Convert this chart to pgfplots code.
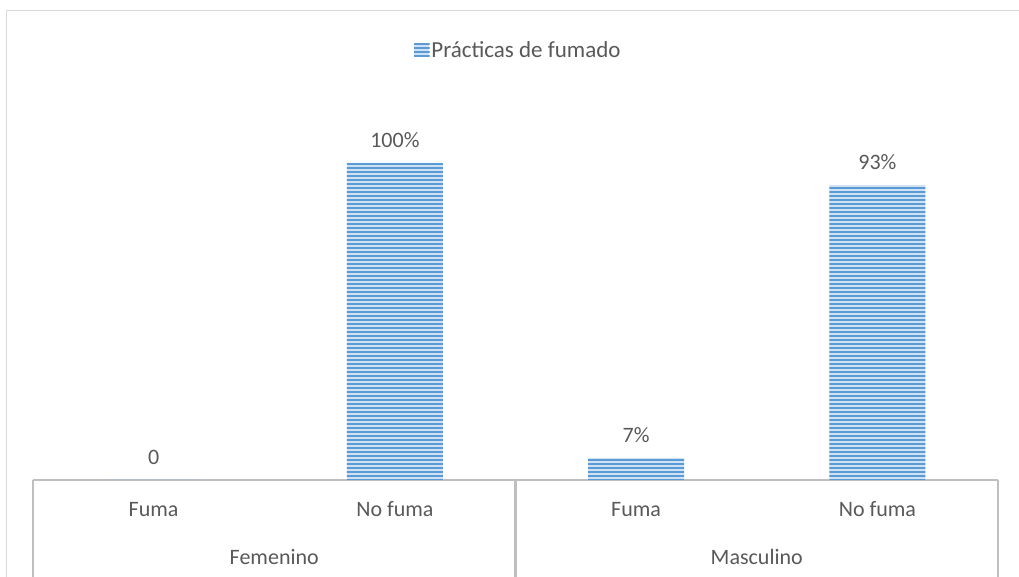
\documentclass[border=0pt]{standalone}
\usepackage{fontspec}
\setmainfont{Carlito}
\usepackage{pgfplots}
\pgfplotsset{compat=1.18}
\usetikzlibrary{patterns}
\pgfdeclarepatternformonly{hstripes}{\pgfpointorigin}{\pgfpoint{100pt}{4pt}}{\pgfpoint{100pt}{4pt}}{%
  \pgfpathrectangle{\pgfpoint{-1pt}{0pt}}{\pgfpoint{102pt}{2.2pt}}\pgfusepath{fill}}
\definecolor{barblue}{HTML}{5B9BD5}
\definecolor{barlight}{HTML}{CFE1F3}
\definecolor{txt}{HTML}{595959}
\definecolor{axgray}{HTML}{BFBFBF}
\definecolor{framegray}{HTML}{D9D9D9}
\begin{document}
\begin{tikzpicture}[font=\fontsize{22}{26}\selectfont, text=txt]
\path[use as bounding box] (-33pt,-97pt) rectangle (986pt,480pt);
\begin{axis}[
  at={(0pt,0pt)}, anchor=south west,
  scale only axis,
  width=965pt, height=364.6pt,
  xmin=-0.5, xmax=3.5, ymin=0, ymax=115,
  axis x line=bottom, axis y line=none,
  x axis line style={draw=axgray, line width=2.5pt, -},
  xtick={0,1,2,3},
  xticklabels={Fuma, No fuma, Fuma, No fuma},
  xticklabel style={text=txt, anchor=center, yshift=-30pt, text height=14pt, text depth=0pt, font=\fontsize{22}{26}\selectfont},
  major tick length=0pt,
  tick align=outside,
  xtick style={draw=none},
  extra x ticks={-0.5,1.5,3.5},
  extra x tick labels={},
  extra x tick style={major tick length=97pt, xtick style={draw=axgray, line width=2.5pt}},
  ytick=\empty,
  ybar, bar width=96pt,
  point meta=explicit symbolic,
  nodes near coords={\pgfplotspointmeta},
  nodes near coords style={anchor=center, yshift=23pt, text=txt, font=\fontsize{22}{26}\selectfont},
  legend style={at={(axis description cs:0.5,1)}, anchor=center, xshift=3pt, yshift=65pt, draw=none, fill=none, text=txt, font=\fontsize{23}{27}\selectfont,
    /tikz/every even column/.append style={column sep=0pt}},
  legend image code/.code={\fill[barlight] (0pt,-7pt) rectangle (15pt,7pt);
    \fill[pattern=hstripes, pattern color=barblue] (0pt,-7pt) rectangle (15pt,7pt);},
  clip=false,
]
\addplot[draw=none, fill=barlight, postaction={pattern=hstripes, pattern color=barblue}]
  coordinates {(0,0) [0] (1,100) [100\%] (2,7) [7\%] (3,93) [93\%]};
\addlegendentry{Prácticas de fumado}
\node[text=txt, font=\fontsize{22}{26}\selectfont] at (axis cs:0.5,0) [yshift=-77pt] {Femenino};
\node[text=txt, font=\fontsize{22}{26}\selectfont] at (axis cs:2.5,0) [yshift=-77pt] {Masculino};
\end{axis}
\draw[framegray, line width=1.5pt] (-26.5pt,-97pt) -- (-26.5pt,469.5pt) -- (986pt,469.5pt);
\end{tikzpicture}
\end{document}
